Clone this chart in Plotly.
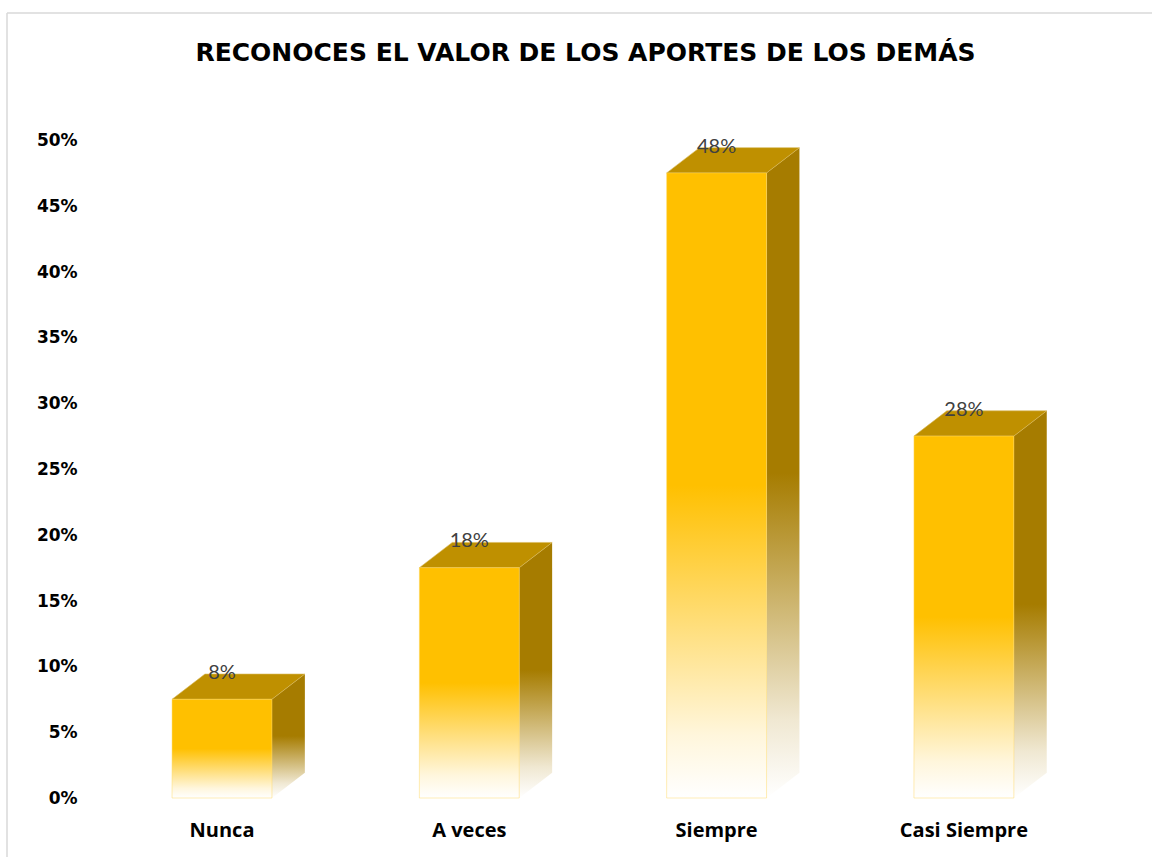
import plotly.graph_objects as go

categories = ["Nunca", "A veces", "Siempre", "Casi Siempre"]
values = [0.075, 0.175, 0.475, 0.275]
value_labels = ["8%", "18%", "48%", "28%"]
y_ticks = [0, 0.05, 0.10, 0.15, 0.20, 0.25, 0.30, 0.35, 0.40, 0.45, 0.50]
y_tick_labels = ["0%", "5%", "10%", "15%", "20%", "25%", "30%", "35%", "40%", "45%", "50%"]
title_text = "RECONOCES EL VALOR DE LOS APORTES DE LOS DEMÁS"

W, H = 1152, 857
FRONT = "#FFC000"
TOP = "#BF9000"
SIDE = "#A67C00"

half_w = 0.202   # half bar width (category units)
dx = 0.133       # depth offset (category units)
dy = 0.0192      # depth offset (value units)

fig = go.Figure()

for i, (cat, v) in enumerate(zip(categories, values)):
    x0, x1 = i - half_w, i + half_w
    # side face
    fig.add_trace(go.Scatter(
        x=[x1, x1 + dx, x1 + dx, x1, x1], y=[0, dy, v + dy, v, 0],
        mode="lines", fill="toself", line=dict(width=0, color=SIDE),
        fillgradient=dict(type="vertical",
                          colorscale=[[0, "#FFFFFF"], [0.12, "#F0E8D2"], [0.5, SIDE], [1, SIDE]]),
        hoverinfo="skip", showlegend=False))
    # top face
    fig.add_trace(go.Scatter(
        x=[x0, x0 + dx, x1 + dx, x1, x0], y=[v, v + dy, v + dy, v, v],
        mode="lines", fill="toself", fillcolor=TOP, line=dict(width=0.6, color="#D9B95A"),
        hoverinfo="skip", showlegend=False))
    # front face
    fig.add_trace(go.Scatter(
        x=[x0, x1, x1, x0, x0], y=[0, 0, v, v, 0],
        mode="lines", fill="toself", line=dict(width=0.8, color="rgba(255,217,102,0.6)"),
        fillgradient=dict(type="vertical",
                          colorscale=[[0, "#FFFFFF"], [0.1, "#FFF6DC"], [0.5, FRONT], [1, FRONT]]),
        hoverinfo="skip", showlegend=False))

# value labels
fig.add_trace(go.Scatter(
    x=list(range(len(categories))), y=[v + dy for v in values],
    mode="text", text=value_labels, textposition="middle center",
    textfont=dict(family="Lato", size=20, color="#404040"),
    hoverinfo="skip", showlegend=False, cliponaxis=False))

# geometry (pixel -> paper)
px_per_cat = 247.3
x_center0 = 222.0
x_lo, x_hi = -0.55, 3.7
px_per_val = 1316.0
y_zero = 798.0
y_lo, y_hi = -0.01, 0.52

dom_x = [(x_center0 + x_lo * px_per_cat) / W, (x_center0 + x_hi * px_per_cat) / W]
dom_y = [1 - (y_zero - y_lo * px_per_val) / H, 1 - (y_zero - y_hi * px_per_val) / H]

fig.update_layout(
    width=W, height=H,
    margin=dict(l=0, r=0, t=0, b=0),
    paper_bgcolor="white", plot_bgcolor="white",
    title=dict(text="<b>" + title_text + "</b>", x=585.5 / W, y=1 - 52 / H,
               xref="paper", yref="paper", xanchor="center", yanchor="middle",
               font=dict(family="DejaVu Sans", size=25, color="#000000")),
    xaxis=dict(domain=dom_x, range=[x_lo, x_hi], tickmode="array",
               tickvals=list(range(len(categories))), ticktext=categories,
               showgrid=False, zeroline=False, showline=False,
               ticks="outside", ticklen=1, tickcolor="rgba(0,0,0,0)",
               tickfont=dict(family="Open Sans", size=20, color="#000000", weight="bold"),
               fixedrange=True),
    yaxis=dict(domain=dom_y, range=[y_lo, y_hi], tickmode="array",
               tickvals=y_ticks, ticktext=y_tick_labels,
               showgrid=False, zeroline=False, showline=False,
               ticks="outside", ticklen=4, tickcolor="rgba(0,0,0,0)",
               tickfont=dict(family="DejaVu Sans", size=17, color="#000000", weight="bold"),
               fixedrange=True),
    shapes=[
        dict(type="line", xref="paper", yref="paper", x0=7 / W, x1=7 / W, y0=0, y1=1 - 13 / H,
             line=dict(color="#D9D9D9", width=1.5)),
        dict(type="line", xref="paper", yref="paper", x0=7 / W, x1=1, y0=1 - 13 / H, y1=1 - 13 / H,
             line=dict(color="#D9D9D9", width=1.5)),
    ],
)

fig.write_html("out.html", config={"displayModeBar": False},
               post_script="document.body.style.margin='0';")
